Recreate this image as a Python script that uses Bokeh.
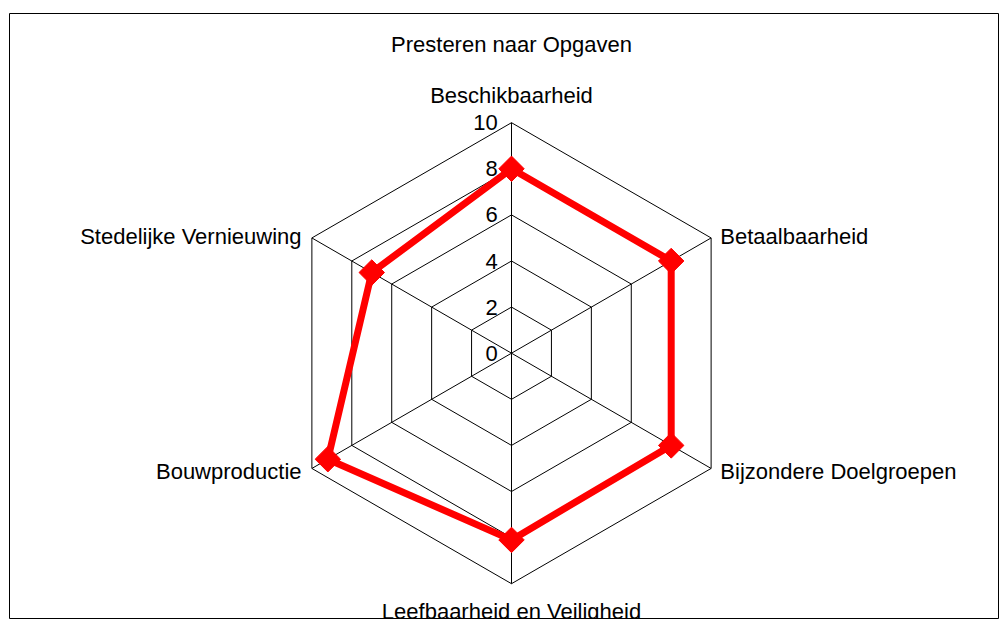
import numpy as np
from bokeh.plotting import figure
from bokeh.models import ColumnDataSource, Range1d, Label
from bokeh.core.properties import value
from bokeh.embed import file_html
from bokeh.resources import INLINE

title = "Presteren naar Opgaven"
categories = ["Beschikbaarheid", "Betaalbaarheid", "Bijzondere Doelgroepen",
              "Leefbaarheid en Veiligheid", "Bouwproductie", "Stedelijke Vernieuwing"]
scores = [8.0, 8.0, 8.0, 8.1, 9.2, 7.0]
ring_levels = [2, 4, 6, 8, 10]
tick_labels = ["0", "2", "4", "6", "8", "10"]
r_max = 10

FONT = value("Liberation Sans")
FS = "22px"

# layout geometry (pixels)
W, H = 999, 619
left_b, top_b, bottom_b = 9, 13, 1
frame_w, frame_h = W - left_b, H - top_b - bottom_b
cx_px, cy_px = 511 - left_b, 352.7 - top_b
px_per_unit = 23.05

p = figure(width=W, height=H, output_backend="svg", toolbar_location=None,
           x_range=Range1d(-cx_px / px_per_unit, (frame_w - cx_px) / px_per_unit),
           y_range=Range1d(-(frame_h - cy_px) / px_per_unit, cy_px / px_per_unit),
           min_border_left=left_b, min_border_right=0, min_border_top=top_b,
           min_border_bottom=bottom_b)
p.axis.visible = False
p.grid.visible = False
p.outline_line_color = "black"
p.outline_line_width = 1
p.background_fill_color = "white"
p.border_fill_color = "white"

n = len(categories)
angles = np.pi / 2 - np.arange(n) * 2 * np.pi / n

# rings
for lv in ring_levels:
    xs = list(lv * np.cos(angles)) + [lv * np.cos(angles[0])]
    ys = list(lv * np.sin(angles)) + [lv * np.sin(angles[0])]
    p.line(xs, ys, line_color="black", line_width=1)

# spokes
p.segment(x0=[0] * n, y0=[0] * n, x1=list(r_max * np.cos(angles)), y1=list(r_max * np.sin(angles)),
          line_color="black", line_width=1)

# tick labels
tick_vals = [0] + ring_levels
p.text(x=[-0.6] * len(tick_vals), y=tick_vals, text=tick_labels, text_font=FONT,
       text_font_size=FS, text_align="right", text_baseline="middle", text_color="black")

# category labels
lab_x, lab_y, lab_align, lab_base = [], [], [], []
for a in angles:
    c, s = np.cos(a), np.sin(a)
    if abs(c) < 1e-6:
        lab_x.append(0)
        if s > 0:
            lab_y.append(r_max + 0.65); lab_base.append("bottom")
        else:
            lab_y.append(-r_max - 0.65); lab_base.append("top")
        lab_align.append("center")
    else:
        lab_x.append(r_max * c + (0.4 if c > 0 else -0.45))
        lab_y.append(r_max * s + (0.08 if s > 0 else -0.12))
        lab_align.append("left" if c > 0 else "right")
        lab_base.append("middle")
p.text(x=lab_x, y=lab_y, text=categories, text_font=FONT, text_font_size=FS,
       text_align=lab_align, text_baseline=lab_base, text_color="black")

# data series
vals = np.array(scores)
sx = list(vals * np.cos(angles)) + [vals[0] * np.cos(angles[0])]
sy = list(vals * np.sin(angles)) + [vals[0] * np.sin(angles[0])]
p.line(sx, sy, line_color="#ff0000", line_width=7, line_join="round")
src = ColumnDataSource(dict(x=list(vals * np.cos(angles)), y=list(vals * np.sin(angles))))
p.scatter("x", "y", source=src, marker="square", size=18, angle=np.pi / 4,
          fill_color="#ff0000", line_color="#ff0000")

# title
p.add_layout(Label(x=0, y=(cy_px - 31) / px_per_unit, text=title, text_font="Liberation Sans",
                   text_font_size=FS, text_align="center", text_baseline="middle",
                   text_color="black"))

open("out.html", "w").write(file_html(p, INLINE))
